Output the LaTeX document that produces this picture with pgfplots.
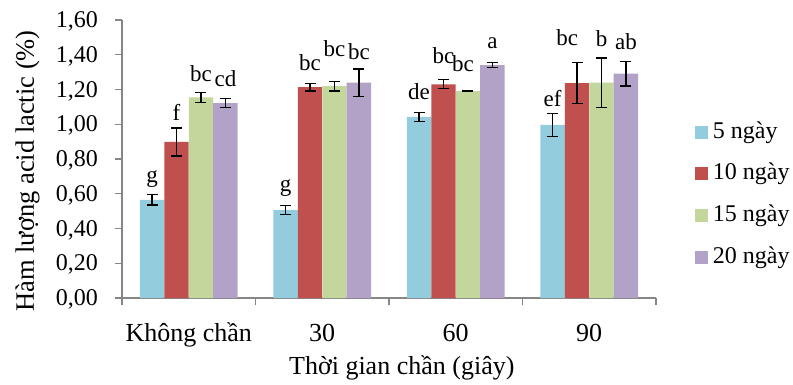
\documentclass[border=0pt]{standalone}
\usepackage{fontspec}
\setmainfont{Liberation Serif}
\usepackage{pgfplots}
\pgfplotsset{compat=1.18}
\definecolor{c5}{HTML}{93CDDD}
\definecolor{c10}{HTML}{C0504D}
\definecolor{c15}{HTML}{C3D69B}
\definecolor{c20}{HTML}{B3A2C7}
\definecolor{axgray}{HTML}{868686}
\begin{document}
\begin{tikzpicture}[font=\fontsize{24}{28}\selectfont]
\useasboundingbox (-122pt,-86pt) rectangle (671pt,298pt);
\begin{axis}[
  at={(0,0)}, anchor=south west,
  scale only axis, width=534pt, height=278pt,
  xmin=-0.5, xmax=3.5, ymin=0, ymax=1.6,
  axis lines*=left,
  axis line style={draw=axgray, line width=1.2pt, -},
  tick style={draw=axgray, line width=1.2pt},
  major tick length=7pt, tick align=outside,
  xtick={-0.5,0.5,1.5,2.5,3.5},
  x tick label as interval,
  xticklabels={Không chần,30,60,90},
  xticklabel style={anchor=base, inner sep=0pt, yshift=-36pt, font=\fontsize{26}{30}\selectfont},
  ytick={0,0.2,0.4,0.6,0.8,1.0,1.2,1.4,1.6},
  /pgf/number format/use comma, /pgf/number format/fixed,
  /pgf/number format/fixed zerofill, /pgf/number format/precision=2,
  /pgf/number format/assume math mode=true,
  yticklabel={\pgfmathprintnumber{\tick}\kern17pt},
  yticklabel style={anchor=east, inner sep=0pt, yshift=-1.5pt},
  xlabel={Thời gian chần (giây)},
  xlabel style={at={([yshift=-76pt]axis description cs:0.524,0)}, anchor=base, font=\fontsize{26}{30}\selectfont},
  ylabel={Hàm lượng acid lactic (\%)},
  ylabel style={at={([xshift=-88pt]axis description cs:0,0.457)}, anchor=base, font=\fontsize{26.5}{30}\selectfont},
  legend style={at={(1.073,0.6367)}, anchor=north west, draw=none, fill=none,
    inner sep=0pt, outer sep=0pt, row sep=19.7pt, column sep=5pt,
    nodes={inner sep=0pt, text height=17pt, text depth=5pt, anchor=west}},
  legend cell align=left,
  mybar/.style={ybar, bar width=0.1833, bar shift=0pt, draw=none, fill=#1,
    legend image code/.code={\fill[#1] (0pt,-6.5pt) rectangle (13pt,6.5pt);},
    error bars/y dir=both, error bars/y explicit,
    error bars/error bar style={black, line width=1.3pt},
    error bars/error mark options={rotate=90, mark size=5.5pt, black, line width=1.3pt}},
]
\addplot[mybar=c5] coordinates {
  (-0.275,0.565) +- (0,0.029)
  (0.725,0.506) +- (0,0.027)
  (1.725,1.042) +- (0,0.027)
  (2.725,0.996) +- (0,0.066)};
\addlegendentry{5 ngày}
\addplot[mybar=c10] coordinates {
  (-0.0917,0.898) +- (0,0.080)
  (0.9083,1.213) +- (0,0.022)
  (1.9083,1.230) +- (0,0.026)
  (2.9083,1.237) +- (0,0.119)};
\addlegendentry{10 ngày}
\addplot[mybar=c15] coordinates {
  (0.0917,1.155) +- (0,0.028)
  (1.0917,1.220) +- (0,0.028)
  (2.0917,1.191) +- (0,0.000)
  (3.0917,1.239) +- (0,0.143)};
\addlegendentry{15 ngày}
\addplot[mybar=c20] coordinates {
  (0.275,1.122) +- (0,0.026)
  (1.275,1.239) +- (0,0.079)
  (2.275,1.341) +- (0,0.015)
  (3.275,1.291) +- (0,0.071)};
\addlegendentry{20 ngày}
\addplot[draw=none, mark=none, forget plot, nodes near coords, point meta=explicit symbolic,
  every node near coord/.append style={anchor=base, inner sep=0pt, text=black, font=\fontsize{23}{27}\selectfont}] coordinates {
  (-0.275,0.662) [g]
  (-0.092,1.024) [f]
  (0.092,1.245) [bc]
  (0.275,1.220) [cd]
  (0.725,0.613) [g]
  (0.908,1.312) [bc]
  (1.092,1.389) [bc]
  (1.275,1.370) [bc]
  (1.725,1.140) [de]
  (1.908,1.347) [bc]
  (2.055,1.302) [bc]
  (2.275,1.437) [a]
  (2.725,1.101) [ef]
  (2.835,1.456) [bc]
  (3.092,1.446) [b]
  (3.275,1.431) [ab]};
\end{axis}
\end{tikzpicture}
\end{document}
